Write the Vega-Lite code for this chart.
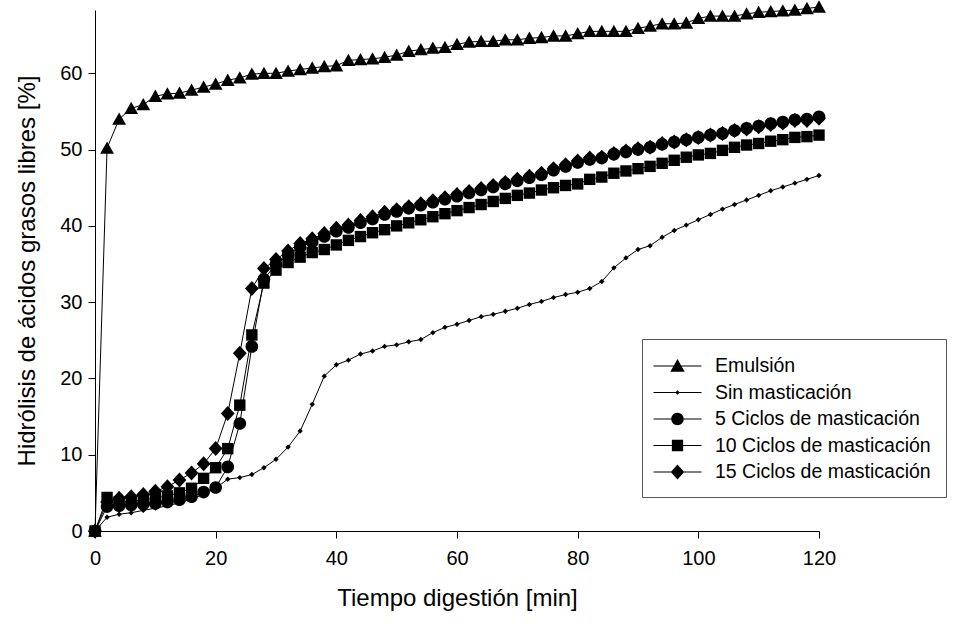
{
  "$schema": "https://vega.github.io/schema/vega-lite/v6.json",
  "autosize": {"type": "none"},
  "padding": {"left": 95, "top": 10, "right": 134, "bottom": 95},
  "width": 724,
  "height": 521,
  "background": "white",
  "config": {
    "view": {"stroke": null},
    "font": "Liberation Sans",
    "axis": {"grid": false, "domainColor": "black", "tickColor": "black", "labelColor": "black", "titleColor": "black", "labelFont": "Liberation Sans", "titleFont": "Liberation Sans", "labelFontSize": 20, "titleFontSize": 24, "titleFontWeight": "normal", "tickSize": 7, "domainWidth": 1, "tickWidth": 1}
  },
  "data": {"values": [
    {"serie":"Emulsión","t":0,"v":0},{"serie":"Emulsión","t":2,"v":50.2},{"serie":"Emulsión","t":4,"v":54.0},{"serie":"Emulsión","t":6,"v":55.4},{"serie":"Emulsión","t":8,"v":55.9},{"serie":"Emulsión","t":10,"v":57.0},{"serie":"Emulsión","t":12,"v":57.3},{"serie":"Emulsión","t":14,"v":57.4},{"serie":"Emulsión","t":16,"v":57.8},{"serie":"Emulsión","t":18,"v":58.2},{"serie":"Emulsión","t":20,"v":58.6},{"serie":"Emulsión","t":22,"v":59.1},{"serie":"Emulsión","t":24,"v":59.4},{"serie":"Emulsión","t":26,"v":59.9},{"serie":"Emulsión","t":28,"v":60.0},{"serie":"Emulsión","t":30,"v":60.0},{"serie":"Emulsión","t":32,"v":60.3},{"serie":"Emulsión","t":34,"v":60.5},{"serie":"Emulsión","t":36,"v":60.7},{"serie":"Emulsión","t":38,"v":60.9},{"serie":"Emulsión","t":40,"v":61.0},{"serie":"Emulsión","t":42,"v":61.7},{"serie":"Emulsión","t":44,"v":61.8},{"serie":"Emulsión","t":46,"v":61.9},{"serie":"Emulsión","t":48,"v":62.1},{"serie":"Emulsión","t":50,"v":62.4},{"serie":"Emulsión","t":52,"v":62.9},{"serie":"Emulsión","t":54,"v":63.1},{"serie":"Emulsión","t":56,"v":63.3},{"serie":"Emulsión","t":58,"v":63.4},{"serie":"Emulsión","t":60,"v":63.8},{"serie":"Emulsión","t":62,"v":64.1},{"serie":"Emulsión","t":64,"v":64.2},{"serie":"Emulsión","t":66,"v":64.2},{"serie":"Emulsión","t":68,"v":64.4},{"serie":"Emulsión","t":70,"v":64.4},{"serie":"Emulsión","t":72,"v":64.6},{"serie":"Emulsión","t":74,"v":64.7},{"serie":"Emulsión","t":76,"v":64.9},{"serie":"Emulsión","t":78,"v":64.9},{"serie":"Emulsión","t":80,"v":65.2},{"serie":"Emulsión","t":82,"v":65.5},{"serie":"Emulsión","t":84,"v":65.5},{"serie":"Emulsión","t":86,"v":65.5},{"serie":"Emulsión","t":88,"v":65.5},{"serie":"Emulsión","t":90,"v":65.9},{"serie":"Emulsión","t":92,"v":66.2},{"serie":"Emulsión","t":94,"v":66.5},{"serie":"Emulsión","t":96,"v":66.5},{"serie":"Emulsión","t":98,"v":66.6},{"serie":"Emulsión","t":100,"v":67.2},{"serie":"Emulsión","t":102,"v":67.5},{"serie":"Emulsión","t":104,"v":67.5},{"serie":"Emulsión","t":106,"v":67.5},{"serie":"Emulsión","t":108,"v":67.8},{"serie":"Emulsión","t":110,"v":68.0},{"serie":"Emulsión","t":112,"v":68.1},{"serie":"Emulsión","t":114,"v":68.2},{"serie":"Emulsión","t":116,"v":68.3},{"serie":"Emulsión","t":118,"v":68.5},{"serie":"Emulsión","t":120,"v":68.7},
    {"serie":"Sin masticación","t":0,"v":0},{"serie":"Sin masticación","t":2,"v":1.8},{"serie":"Sin masticación","t":4,"v":2.2},{"serie":"Sin masticación","t":6,"v":2.4},{"serie":"Sin masticación","t":8,"v":2.7},{"serie":"Sin masticación","t":10,"v":3.0},{"serie":"Sin masticación","t":12,"v":3.3},{"serie":"Sin masticación","t":14,"v":3.7},{"serie":"Sin masticación","t":16,"v":4.2},{"serie":"Sin masticación","t":18,"v":4.8},{"serie":"Sin masticación","t":20,"v":5.6},{"serie":"Sin masticación","t":22,"v":6.8},{"serie":"Sin masticación","t":24,"v":7.0},{"serie":"Sin masticación","t":26,"v":7.4},{"serie":"Sin masticación","t":28,"v":8.3},{"serie":"Sin masticación","t":30,"v":9.4},{"serie":"Sin masticación","t":32,"v":11.0},{"serie":"Sin masticación","t":34,"v":13.1},{"serie":"Sin masticación","t":36,"v":16.6},{"serie":"Sin masticación","t":38,"v":20.3},{"serie":"Sin masticación","t":40,"v":21.8},{"serie":"Sin masticación","t":42,"v":22.4},{"serie":"Sin masticación","t":44,"v":23.2},{"serie":"Sin masticación","t":46,"v":23.6},{"serie":"Sin masticación","t":48,"v":24.2},{"serie":"Sin masticación","t":50,"v":24.4},{"serie":"Sin masticación","t":52,"v":24.8},{"serie":"Sin masticación","t":54,"v":25.1},{"serie":"Sin masticación","t":56,"v":26.0},{"serie":"Sin masticación","t":58,"v":26.7},{"serie":"Sin masticación","t":60,"v":27.1},{"serie":"Sin masticación","t":62,"v":27.6},{"serie":"Sin masticación","t":64,"v":28.1},{"serie":"Sin masticación","t":66,"v":28.4},{"serie":"Sin masticación","t":68,"v":28.8},{"serie":"Sin masticación","t":70,"v":29.2},{"serie":"Sin masticación","t":72,"v":29.7},{"serie":"Sin masticación","t":74,"v":30.1},{"serie":"Sin masticación","t":76,"v":30.6},{"serie":"Sin masticación","t":78,"v":31.0},{"serie":"Sin masticación","t":80,"v":31.3},{"serie":"Sin masticación","t":82,"v":31.8},{"serie":"Sin masticación","t":84,"v":32.7},{"serie":"Sin masticación","t":86,"v":34.5},{"serie":"Sin masticación","t":88,"v":35.8},{"serie":"Sin masticación","t":90,"v":36.9},{"serie":"Sin masticación","t":92,"v":37.4},{"serie":"Sin masticación","t":94,"v":38.5},{"serie":"Sin masticación","t":96,"v":39.4},{"serie":"Sin masticación","t":98,"v":40.1},{"serie":"Sin masticación","t":100,"v":40.8},{"serie":"Sin masticación","t":102,"v":41.5},{"serie":"Sin masticación","t":104,"v":42.2},{"serie":"Sin masticación","t":106,"v":42.8},{"serie":"Sin masticación","t":108,"v":43.4},{"serie":"Sin masticación","t":110,"v":44.0},{"serie":"Sin masticación","t":112,"v":44.6},{"serie":"Sin masticación","t":114,"v":45.1},{"serie":"Sin masticación","t":116,"v":45.6},{"serie":"Sin masticación","t":118,"v":46.1},{"serie":"Sin masticación","t":120,"v":46.6},
    {"serie":"5 Ciclos de masticación","t":0,"v":0},{"serie":"5 Ciclos de masticación","t":2,"v":3.2},{"serie":"5 Ciclos de masticación","t":4,"v":3.3},{"serie":"5 Ciclos de masticación","t":6,"v":3.4},{"serie":"5 Ciclos de masticación","t":8,"v":3.5},{"serie":"5 Ciclos de masticación","t":10,"v":3.6},{"serie":"5 Ciclos de masticación","t":12,"v":3.8},{"serie":"5 Ciclos de masticación","t":14,"v":4.1},{"serie":"5 Ciclos de masticación","t":16,"v":4.5},{"serie":"5 Ciclos de masticación","t":18,"v":5.1},{"serie":"5 Ciclos de masticación","t":20,"v":5.7},{"serie":"5 Ciclos de masticación","t":22,"v":8.4},{"serie":"5 Ciclos de masticación","t":24,"v":14.1},{"serie":"5 Ciclos de masticación","t":26,"v":24.2},{"serie":"5 Ciclos de masticación","t":28,"v":33.0},{"serie":"5 Ciclos de masticación","t":30,"v":35.0},{"serie":"5 Ciclos de masticación","t":32,"v":36.2},{"serie":"5 Ciclos de masticación","t":34,"v":37.2},{"serie":"5 Ciclos de masticación","t":36,"v":37.9},{"serie":"5 Ciclos de masticación","t":38,"v":38.6},{"serie":"5 Ciclos de masticación","t":40,"v":39.3},{"serie":"5 Ciclos de masticación","t":42,"v":39.8},{"serie":"5 Ciclos de masticación","t":44,"v":40.4},{"serie":"5 Ciclos de masticación","t":46,"v":40.9},{"serie":"5 Ciclos de masticación","t":48,"v":41.5},{"serie":"5 Ciclos de masticación","t":50,"v":41.9},{"serie":"5 Ciclos de masticación","t":52,"v":42.3},{"serie":"5 Ciclos de masticación","t":54,"v":42.7},{"serie":"5 Ciclos de masticación","t":56,"v":43.1},{"serie":"5 Ciclos de masticación","t":58,"v":43.5},{"serie":"5 Ciclos de masticación","t":60,"v":43.9},{"serie":"5 Ciclos de masticación","t":62,"v":44.3},{"serie":"5 Ciclos de masticación","t":64,"v":44.7},{"serie":"5 Ciclos de masticación","t":66,"v":45.1},{"serie":"5 Ciclos de masticación","t":68,"v":45.5},{"serie":"5 Ciclos de masticación","t":70,"v":45.9},{"serie":"5 Ciclos de masticación","t":72,"v":46.3},{"serie":"5 Ciclos de masticación","t":74,"v":46.7},{"serie":"5 Ciclos de masticación","t":76,"v":47.3},{"serie":"5 Ciclos de masticación","t":78,"v":47.8},{"serie":"5 Ciclos de masticación","t":80,"v":48.3},{"serie":"5 Ciclos de masticación","t":82,"v":48.7},{"serie":"5 Ciclos de masticación","t":84,"v":48.9},{"serie":"5 Ciclos de masticación","t":86,"v":49.4},{"serie":"5 Ciclos de masticación","t":88,"v":49.7},{"serie":"5 Ciclos de masticación","t":90,"v":50.0},{"serie":"5 Ciclos de masticación","t":92,"v":50.3},{"serie":"5 Ciclos de masticación","t":94,"v":50.7},{"serie":"5 Ciclos de masticación","t":96,"v":51.0},{"serie":"5 Ciclos de masticación","t":98,"v":51.3},{"serie":"5 Ciclos de masticación","t":100,"v":51.6},{"serie":"5 Ciclos de masticación","t":102,"v":51.9},{"serie":"5 Ciclos de masticación","t":104,"v":52.1},{"serie":"5 Ciclos de masticación","t":106,"v":52.5},{"serie":"5 Ciclos de masticación","t":108,"v":52.8},{"serie":"5 Ciclos de masticación","t":110,"v":53.1},{"serie":"5 Ciclos de masticación","t":112,"v":53.4},{"serie":"5 Ciclos de masticación","t":114,"v":53.6},{"serie":"5 Ciclos de masticación","t":116,"v":53.9},{"serie":"5 Ciclos de masticación","t":118,"v":54.0},{"serie":"5 Ciclos de masticación","t":120,"v":54.3},
    {"serie":"10 Ciclos de masticación","t":0,"v":0},{"serie":"10 Ciclos de masticación","t":2,"v":4.4},{"serie":"10 Ciclos de masticación","t":4,"v":3.8},{"serie":"10 Ciclos de masticación","t":6,"v":3.9},{"serie":"10 Ciclos de masticación","t":8,"v":4.1},{"serie":"10 Ciclos de masticación","t":10,"v":4.3},{"serie":"10 Ciclos de masticación","t":12,"v":4.6},{"serie":"10 Ciclos de masticación","t":14,"v":5.0},{"serie":"10 Ciclos de masticación","t":16,"v":5.6},{"serie":"10 Ciclos de masticación","t":18,"v":6.9},{"serie":"10 Ciclos de masticación","t":20,"v":8.3},{"serie":"10 Ciclos de masticación","t":22,"v":10.8},{"serie":"10 Ciclos de masticación","t":24,"v":16.5},{"serie":"10 Ciclos de masticación","t":26,"v":25.7},{"serie":"10 Ciclos de masticación","t":28,"v":32.5},{"serie":"10 Ciclos de masticación","t":30,"v":34.2},{"serie":"10 Ciclos de masticación","t":32,"v":35.2},{"serie":"10 Ciclos de masticación","t":34,"v":35.9},{"serie":"10 Ciclos de masticación","t":36,"v":36.5},{"serie":"10 Ciclos de masticación","t":38,"v":36.9},{"serie":"10 Ciclos de masticación","t":40,"v":37.5},{"serie":"10 Ciclos de masticación","t":42,"v":38.1},{"serie":"10 Ciclos de masticación","t":44,"v":38.6},{"serie":"10 Ciclos de masticación","t":46,"v":39.1},{"serie":"10 Ciclos de masticación","t":48,"v":39.5},{"serie":"10 Ciclos de masticación","t":50,"v":40.0},{"serie":"10 Ciclos de masticación","t":52,"v":40.4},{"serie":"10 Ciclos de masticación","t":54,"v":40.8},{"serie":"10 Ciclos de masticación","t":56,"v":41.2},{"serie":"10 Ciclos de masticación","t":58,"v":41.6},{"serie":"10 Ciclos de masticación","t":60,"v":42.0},{"serie":"10 Ciclos de masticación","t":62,"v":42.4},{"serie":"10 Ciclos de masticación","t":64,"v":42.8},{"serie":"10 Ciclos de masticación","t":66,"v":43.2},{"serie":"10 Ciclos de masticación","t":68,"v":43.6},{"serie":"10 Ciclos de masticación","t":70,"v":44.0},{"serie":"10 Ciclos de masticación","t":72,"v":44.3},{"serie":"10 Ciclos de masticación","t":74,"v":44.7},{"serie":"10 Ciclos de masticación","t":76,"v":45.0},{"serie":"10 Ciclos de masticación","t":78,"v":45.3},{"serie":"10 Ciclos de masticación","t":80,"v":45.5},{"serie":"10 Ciclos de masticación","t":82,"v":46.1},{"serie":"10 Ciclos de masticación","t":84,"v":46.4},{"serie":"10 Ciclos de masticación","t":86,"v":46.9},{"serie":"10 Ciclos de masticación","t":88,"v":47.2},{"serie":"10 Ciclos de masticación","t":90,"v":47.5},{"serie":"10 Ciclos de masticación","t":92,"v":47.8},{"serie":"10 Ciclos de masticación","t":94,"v":48.2},{"serie":"10 Ciclos de masticación","t":96,"v":48.6},{"serie":"10 Ciclos de masticación","t":98,"v":49.0},{"serie":"10 Ciclos de masticación","t":100,"v":49.3},{"serie":"10 Ciclos de masticación","t":102,"v":49.5},{"serie":"10 Ciclos de masticación","t":104,"v":49.9},{"serie":"10 Ciclos de masticación","t":106,"v":50.3},{"serie":"10 Ciclos de masticación","t":108,"v":50.6},{"serie":"10 Ciclos de masticación","t":110,"v":50.8},{"serie":"10 Ciclos de masticación","t":112,"v":51.1},{"serie":"10 Ciclos de masticación","t":114,"v":51.3},{"serie":"10 Ciclos de masticación","t":116,"v":51.6},{"serie":"10 Ciclos de masticación","t":118,"v":51.7},{"serie":"10 Ciclos de masticación","t":120,"v":51.9},
    {"serie":"15 Ciclos de masticación","t":0,"v":0},{"serie":"15 Ciclos de masticación","t":2,"v":3.8},{"serie":"15 Ciclos de masticación","t":4,"v":4.3},{"serie":"15 Ciclos de masticación","t":6,"v":4.5},{"serie":"15 Ciclos de masticación","t":8,"v":4.8},{"serie":"15 Ciclos de masticación","t":10,"v":5.2},{"serie":"15 Ciclos de masticación","t":12,"v":5.8},{"serie":"15 Ciclos de masticación","t":14,"v":6.7},{"serie":"15 Ciclos de masticación","t":16,"v":7.6},{"serie":"15 Ciclos de masticación","t":18,"v":8.8},{"serie":"15 Ciclos de masticación","t":20,"v":10.8},{"serie":"15 Ciclos de masticación","t":22,"v":15.4},{"serie":"15 Ciclos de masticación","t":24,"v":23.3},{"serie":"15 Ciclos de masticación","t":26,"v":31.8},{"serie":"15 Ciclos de masticación","t":28,"v":34.4},{"serie":"15 Ciclos de masticación","t":30,"v":35.6},{"serie":"15 Ciclos de masticación","t":32,"v":36.7},{"serie":"15 Ciclos de masticación","t":34,"v":37.7},{"serie":"15 Ciclos de masticación","t":36,"v":38.3},{"serie":"15 Ciclos de masticación","t":38,"v":39.0},{"serie":"15 Ciclos de masticación","t":40,"v":39.7},{"serie":"15 Ciclos de masticación","t":42,"v":40.1},{"serie":"15 Ciclos de masticación","t":44,"v":40.7},{"serie":"15 Ciclos de masticación","t":46,"v":41.2},{"serie":"15 Ciclos de masticación","t":48,"v":41.8},{"serie":"15 Ciclos de masticación","t":50,"v":42.1},{"serie":"15 Ciclos de masticación","t":52,"v":42.5},{"serie":"15 Ciclos de masticación","t":54,"v":42.9},{"serie":"15 Ciclos de masticación","t":56,"v":43.3},{"serie":"15 Ciclos de masticación","t":58,"v":43.7},{"serie":"15 Ciclos de masticación","t":60,"v":44.1},{"serie":"15 Ciclos de masticación","t":62,"v":44.5},{"serie":"15 Ciclos de masticación","t":64,"v":44.9},{"serie":"15 Ciclos de masticación","t":66,"v":45.3},{"serie":"15 Ciclos de masticación","t":68,"v":45.7},{"serie":"15 Ciclos de masticación","t":70,"v":46.1},{"serie":"15 Ciclos de masticación","t":72,"v":46.5},{"serie":"15 Ciclos de masticación","t":74,"v":46.9},{"serie":"15 Ciclos de masticación","t":76,"v":47.5},{"serie":"15 Ciclos de masticación","t":78,"v":48.0},{"serie":"15 Ciclos de masticación","t":80,"v":48.5},{"serie":"15 Ciclos de masticación","t":82,"v":48.9},{"serie":"15 Ciclos de masticación","t":84,"v":49.0},{"serie":"15 Ciclos de masticación","t":86,"v":49.5},{"serie":"15 Ciclos de masticación","t":88,"v":49.8},{"serie":"15 Ciclos de masticación","t":90,"v":50.1},{"serie":"15 Ciclos de masticación","t":92,"v":50.3},{"serie":"15 Ciclos de masticación","t":94,"v":50.8},{"serie":"15 Ciclos de masticación","t":96,"v":51.0},{"serie":"15 Ciclos de masticación","t":98,"v":51.3},{"serie":"15 Ciclos de masticación","t":100,"v":51.6},{"serie":"15 Ciclos de masticación","t":102,"v":51.9},{"serie":"15 Ciclos de masticación","t":104,"v":52.1},{"serie":"15 Ciclos de masticación","t":106,"v":52.5},{"serie":"15 Ciclos de masticación","t":108,"v":52.7},{"serie":"15 Ciclos de masticación","t":110,"v":53.0},{"serie":"15 Ciclos de masticación","t":112,"v":53.3},{"serie":"15 Ciclos de masticación","t":114,"v":53.5},{"serie":"15 Ciclos de masticación","t":116,"v":53.8},{"serie":"15 Ciclos de masticación","t":118,"v":53.8},{"serie":"15 Ciclos de masticación","t":120,"v":54.1}
  ]},
  "encoding": {
    "x": {"field": "t", "type": "quantitative", "scale": {"domain": [0, 120], "nice": false, "zero": false}, "axis": {"values": [0, 20, 40, 60, 80, 100, 120], "title": "Tiempo digestión [min]", "labelPadding": 10, "titlePadding": 18, "labelFlush": false}},
    "y": {"field": "v", "type": "quantitative", "scale": {"domain": [0, 68.3], "nice": false}, "axis": {"values": [0, 10, 20, 30, 40, 50, 60], "title": "Hidrólisis de ácidos grasos libres [%]", "labelPadding": 6, "titlePadding": 20, "labelFlush": false}}
  },
  "resolve": {"scale": {"shape": "independent"}, "legend": {"shape": "independent"}},
  "layer": [
    {
      "mark": {"type": "line", "color": "black", "strokeWidth": 1, "clip": false},
      "encoding": {"detail": {"field": "serie", "type": "nominal"}}
    },
    {
      "mark": {"type": "point", "filled": true, "color": "black", "opacity": 1, "size": 144, "clip": false},
      "encoding": {
        "shape": {
          "field": "serie", "type": "nominal",
          "scale": {
            "domain": ["Emulsión", "Sin masticación", "5 Ciclos de masticación", "10 Ciclos de masticación", "15 Ciclos de masticación"],
            "range": ["M0,-1.1L1.15,0.95L-1.15,0.95Z", "M0,-0.45L0.45,0L0,0.45L-0.45,0Z", "M1.05,0A1.05,1.05,0,1,1,-1.05,0A1.05,1.05,0,1,1,1.05,0Z", "M-0.95,-0.95H0.95V0.95H-0.95Z", "M0,-1.25L1.15,0L0,1.25L-1.15,0Z"]
          },
          "legend": null
        }
      }
    },
    {
      "transform": [{"filter": "datum.t < 0"}],
      "mark": {"type": "point", "filled": true, "color": "black", "opacity": 1, "size": 576, "clip": false},
      "encoding": {
        "shape": {
          "field": "serie", "type": "nominal",
          "scale": {
            "domain": ["Emulsión", "Sin masticación", "5 Ciclos de masticación", "10 Ciclos de masticación", "15 Ciclos de masticación"],
            "range": ["M-2,-0.045H2V0.045H-2ZM0,-0.58L0.6,0.48L-0.6,0.48Z", "M-2,-0.045H2V0.045H-2ZM0,-0.18L0.18,0L0,0.18L-0.18,0Z", "M-2,-0.045H2V0.045H-2ZM0.52,0A0.52,0.52,0,1,1,-0.52,0A0.52,0.52,0,1,1,0.52,0Z", "M-2,-0.045H2V0.045H-2ZM-0.47,-0.47H0.47V0.47H-0.47Z", "M-2,-0.045H2V0.045H-2ZM0,-0.62L0.56,0L0,0.62L-0.56,0Z"]
          },
          "legend": {
            "title": null,
            "orient": "none",
            "legendX": 547,
            "legendY": 329,
            "padding": 15,
            "strokeColor": "#555555",
            "fillColor": "white",
            "symbolSize": 576,
            "symbolOffset": 8.5,
            "labelOffset": 25.5,
            "rowPadding": 4.5,
            "labelFont": "Liberation Sans",
            "labelFontSize": 19.5,
            "labelColor": "black",
            "labelLimit": 400,
            "symbolFillColor": "black",
            "symbolStrokeColor": "black",
            "symbolStrokeWidth": 0,
            "encode": {
              "legend": {"update": {"strokeWidth": {"value": 1.5}}},
              "symbols": {
                "update": {
                  "size": {"value": 576},
                  "fill": {"value": "black"},
                  "opacity": {"value": 1}
                }
              }
            }
          }
        }
      }
    }
  ]
}
